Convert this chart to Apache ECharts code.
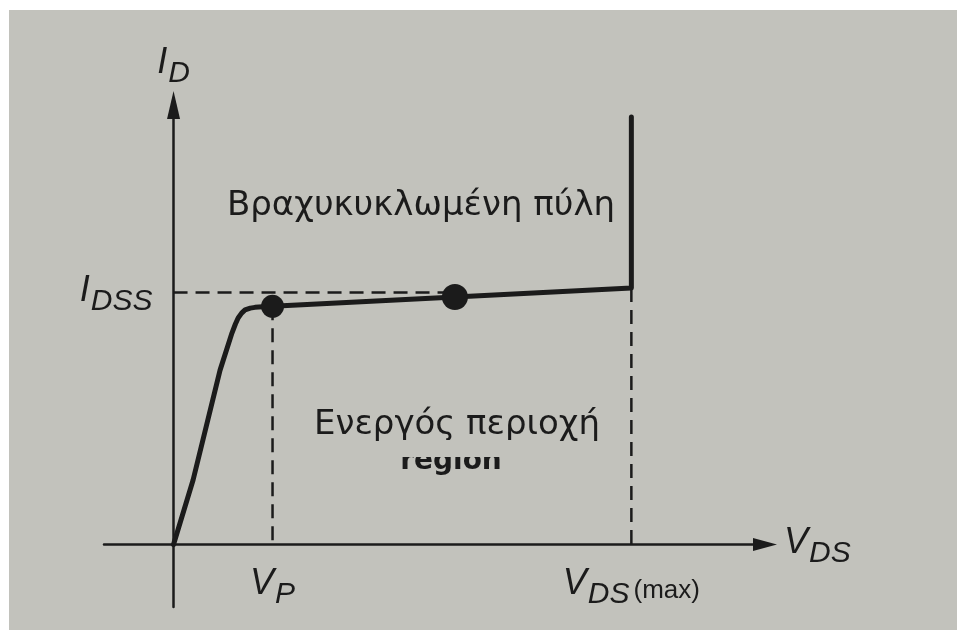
<!DOCTYPE html>
<html>
<head>
<meta charset="utf-8">
<script src="https://cdn.jsdelivr.net/npm/echarts@6/dist/echarts.min.js"></script>
<style>
  html, body { margin: 0; padding: 0; background: #ffffff; }
  #chart { width: 957px; height: 630px; }
</style>
</head>
<body>
<div id="chart"></div>
<script>
// JFET drain characteristic, gate shorted to source (V_GS = 0)
// Drain-source voltage (V) and drain current (mA) along the curve
const vds = [0, 0.79, 1.88, 2.36, 2.5, 2.61, 2.75, 2.89, 3.1, 3.29, 3.6, 4, 11.37, 18.5, 18.5];
const id  = [0, 2.56, 6.92, 8.39, 8.75, 8.99, 9.18, 9.31, 9.38, 9.41, 9.43, 9.45, 9.82, 10.18, 16.96];

// Characteristic values
const vp = 4;          // pinch-off voltage
const vdsMax = 18.5;   // maximum drain-source voltage
const idss = 10;       // saturation current with shorted gate
const idssGuideEnd = 11;

// Highlighted operating points on the curve
const markerV = [4, 11.37];
const markerI = [9.45, 9.82];
const markerSize = [23, 26];

// Tick labels
const xTickLabels = ['{v|V}{s|P}', '{v|V}{s|DS}{m|(max)}'];
const yTickLabels = ['{v|I}{s|DSS}'];

// Axis ranges (the axes cross at the origin, both extend past it)
const xRange = [-2.81, 23.9];
const yRange = [-2.48, 17.44];

const W = 957, H = 630;
const gridBox = { left: 104, right: 192, top: 105, bottom: 23 };
const plotW = W - gridBox.left - gridBox.right;
const plotH = H - gridBox.top - gridBox.bottom;
// shift each axis from the grid edge onto the other axis' zero
const xAxisShift = (0 - yRange[0]) / (yRange[1] - yRange[0]) * plotH;
const yAxisShift = (0 - xRange[0]) / (xRange[1] - xRange[0]) * plotW;

const ink = '#1b1b1b';
const paper = '#c2c2bc';

const italic = { fontFamily: 'Liberation Sans', fontStyle: 'italic', color: ink };
const rich = {
  v: Object.assign({}, italic, { fontSize: 36, lineHeight: 40, verticalAlign: 'top' }),
  s: Object.assign({}, italic, { fontSize: 30, lineHeight: 30, padding: [14, 0, 0, 1], verticalAlign: 'top' }),
  m: { fontFamily: 'Liberation Sans', color: ink, fontSize: 26, lineHeight: 30, padding: [12, 0, 0, 4], verticalAlign: 'top' }
};

const curve = vds.map((v, i) => [v, id[i]]);
const markers = markerV.map((v, i) => [v, markerI[i]]);
const dashed = { color: ink, width: 2.5, type: [14, 8] };

const chart = echarts.init(document.getElementById('chart'), null, { renderer: 'canvas' });

chart.setOption({
  animation: false,
  backgroundColor: '#ffffff',
  grid: Object.assign({ containLabel: false, outerBoundsMode: 'none' }, gridBox),
  xAxis: {
    type: 'value', min: xRange[0], max: xRange[1],
    position: 'bottom', offset: -xAxisShift,
    axisLine: { onZero: false, lineStyle: { color: ink, width: 2.5 }, symbol: ['none', 'triangle'], symbolSize: [13, 24] },
    axisTick: { show: false },
    splitLine: { show: false },
    axisLabel: {
      customValues: [vp, vdsMax],
      formatter: (val) => (val === vp ? xTickLabels[0] : xTickLabels[1]),
      margin: 21,
      rich: rich
    },
    name: '{v|V}{s|DS}', nameLocation: 'end', nameGap: 19,
    nameTextStyle: { rich: rich }
  },
  yAxis: {
    type: 'value', min: yRange[0], max: yRange[1],
    position: 'left', offset: -yAxisShift,
    axisLine: { onZero: false, lineStyle: { color: ink, width: 2.5 }, symbol: ['none', 'triangle'], symbolSize: [13, 28] },
    axisTick: { show: false },
    splitLine: { show: false },
    axisLabel: {
      customValues: [idss],
      formatter: () => yTickLabels[0],
      margin: 21,
      rich: rich
    },
    name: '{v|I}{s|D}', nameLocation: 'end', nameGap: 20,
    nameTextStyle: { rich: rich }
  },
  graphic: [
    { type: 'rect', z: -100, shape: { x: 9, y: 10, width: 948, height: 620 }, style: { fill: paper } },
    { type: 'text', z: 10, x: 421, y: 206,
      style: { text: 'Βραχυκυκλωμένη πύλη', fontFamily: 'DejaVu Sans', fontSize: 34, fill: ink, align: 'center', verticalAlign: 'middle' } },
    { type: 'text', z: 10, x: 457, y: 425,
      style: { text: 'Ενεργός περιοχή', fontFamily: 'DejaVu Sans', fontSize: 34, fill: ink, align: 'center', verticalAlign: 'middle' } },
    { type: 'text', z: 10, x: 451, y: 476,
      style: { text: 'region', fontFamily: 'DejaVu Sans', fontWeight: 'bold', fontSize: 28, fill: ink, align: 'center', verticalAlign: 'bottom' } },
    { type: 'rect', z: 11, shape: { x: 380, y: 440, width: 140, height: 17 }, style: { fill: paper } }
  ],
  series: [
    { name: 'guide IDSS', type: 'line', data: [[0, idss], [idssGuideEnd, idss]], showSymbol: false, lineStyle: dashed, z: 3, silent: true },
    { name: 'guide VP', type: 'line', data: [[vp, markerI[0]], [vp, 0]], showSymbol: false, lineStyle: dashed, z: 3, silent: true },
    { name: 'guide VDSmax', type: 'line', data: [[vdsMax, id[id.length - 2]], [vdsMax, 0]], showSymbol: false, lineStyle: dashed, z: 3, silent: true },
    { name: 'ID', type: 'line', data: curve, showSymbol: false, lineStyle: { color: ink, width: 5, join: 'round', cap: 'round' }, z: 5 },
    { name: 'points', type: 'scatter', data: markers, symbol: 'circle',
      symbolSize: (val, p) => markerSize[p.dataIndex], itemStyle: { color: ink, opacity: 1 }, z: 6 }
  ]
});
</script>
</body>
</html>
